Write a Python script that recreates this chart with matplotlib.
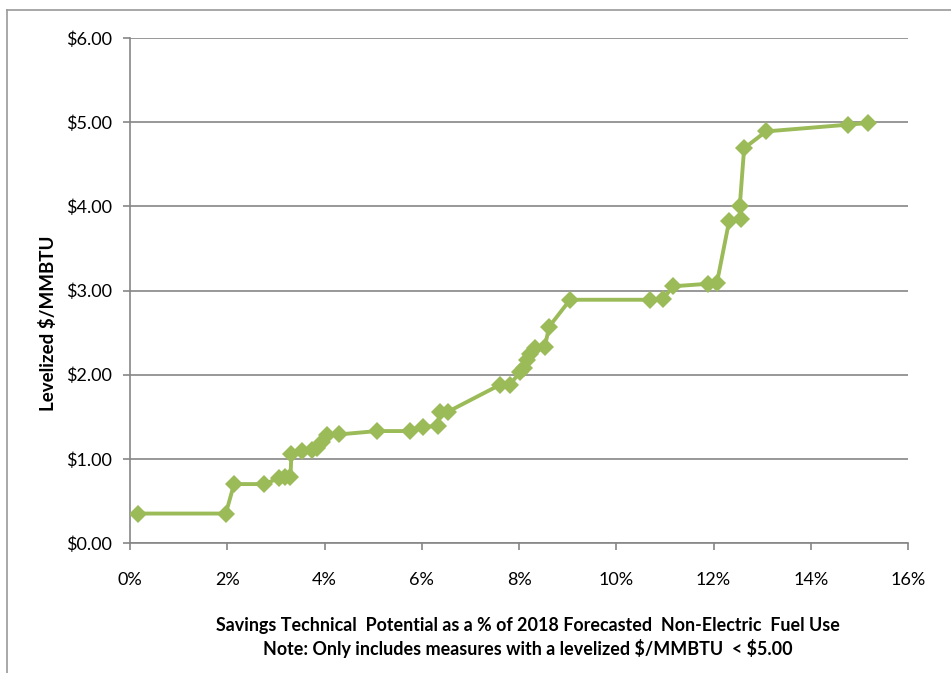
import matplotlib.pyplot as plt
from matplotlib.lines import Line2D
from matplotlib.ticker import FuncFormatter

# cumulative savings (% of 2018 non-electric fuel use) vs levelized cost
savings_pct = [0.16, 1.97, 2.14, 2.76, 3.06, 3.18, 3.30, 3.32, 3.54, 3.74, 3.85, 3.95,
               4.05, 4.30, 5.08, 5.76, 6.03, 6.33, 6.37, 6.54, 7.61, 7.81, 8.02, 8.10,
               8.16, 8.23, 8.33, 8.53, 8.62, 9.05, 10.69, 10.96, 11.17, 11.89, 12.07,
               12.32, 12.56, 12.54, 12.63, 13.08, 14.76, 15.18]
cost = [0.35, 0.35, 0.70, 0.70, 0.77, 0.78, 0.79, 1.06, 1.09, 1.10, 1.13, 1.20,
        1.28, 1.29, 1.33, 1.33, 1.38, 1.39, 1.56, 1.56, 1.88, 1.88, 2.03, 2.08,
        2.18, 2.24, 2.32, 2.33, 2.57, 2.89, 2.89, 2.90, 3.05, 3.08, 3.09,
        3.82, 3.85, 4.00, 4.69, 4.89, 4.97, 4.99]

x_ticks = [0, 2, 4, 6, 8, 10, 12, 14, 16]
y_ticks = [0, 1, 2, 3, 4, 5, 6]

plt.rcParams['font.family'] = ['Lato', 'DejaVu Sans']
plt.rcParams['text.parse_math'] = False

fig = plt.figure(figsize=(9.51, 6.73), dpi=100)
ax = fig.add_axes([130 / 951, 1 - 543 / 673, 778 / 951, 505 / 673])

ax.plot(savings_pct, cost, color='#9BBB59', linewidth=2.8, marker='D',
        markersize=9, markeredgewidth=0, zorder=3)

ax.set_xlim(0, 16)
ax.set_ylim(0, 6)
ax.set_xticks(x_ticks)
ax.set_yticks(y_ticks)
ax.xaxis.set_major_formatter(FuncFormatter(lambda v, p: f'{v:.0f}%'))
ax.yaxis.set_major_formatter(FuncFormatter(lambda v, p: f'${v:.2f}'))
ax.tick_params(axis='both', labelsize=13, colors='#868686', labelcolor='black',
               length=5, width=1.2)
ax.tick_params(axis='x', pad=16)
ax.tick_params(axis='y', pad=8)

ax.grid(axis='y', color='#868686', linewidth=1.2)
ax.set_axisbelow(True)
for side in ['top', 'right']:
    ax.spines[side].set_visible(False)
for side in ['left', 'bottom']:
    ax.spines[side].set_color('#868686')
    ax.spines[side].set_linewidth(1.2)

fig.text(48 / 951, 1 - 323 / 673, 'Levelized $/MMBTU', rotation=90,
         ha='center', va='center', fontsize=13.5, fontweight='bold')
fig.text(528 / 951, 1 - 626 / 673,
         'Savings Technical  Potential as a % of 2018 Forecasted  Non-Electric  Fuel Use',
         ha='center', va='center', fontsize=12.9, fontweight='bold')
fig.text(528 / 951, 1 - 648 / 673,
         'Note: Only includes measures with a levelized $/MMBTU  < $5.00',
         ha='center', va='center', fontsize=12.9, fontweight='bold')

# chart area frame along left and top edge
fig.add_artist(Line2D([7 / 951, 7 / 951], [0, 1 - 10 / 673], color='#9a9a9a', linewidth=1.2))
fig.add_artist(Line2D([7 / 951, 1], [1 - 10 / 673, 1 - 10 / 673], color='#9a9a9a', linewidth=1.2))

fig.savefig('out.png', dpi=100)
